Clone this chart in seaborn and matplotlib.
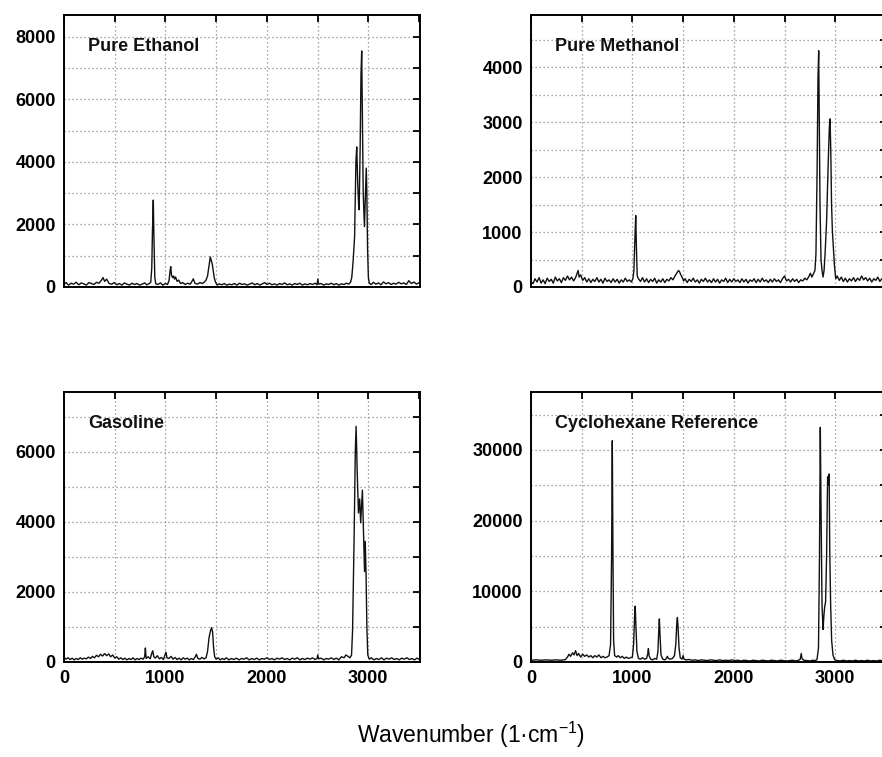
import matplotlib
matplotlib.use("Agg")
import numpy as np
import pandas as pd
import matplotlib.pyplot as plt
import seaborn as sns
from matplotlib.ticker import MultipleLocator

# Raman spectra (wavenumber in 1/cm, counts)
ethanol_wn = [
    0, 20, 45, 70, 95, 120, 145, 170, 195, 220,
    245, 270, 295, 320, 345, 365, 385, 400, 420, 445,
    470, 495, 520, 545, 570, 595, 620, 645, 670, 695,
    720, 745, 770, 795, 815, 835, 855, 865, 872, 880,
    887, 895, 905, 925, 950, 975, 1000, 1020, 1035, 1045,
    1052, 1060, 1070, 1080, 1090, 1100, 1115, 1130, 1150, 1170,
    1195, 1220, 1245, 1265, 1275, 1290, 1315, 1340, 1365, 1385,
    1400, 1415, 1430, 1442, 1452, 1462, 1472, 1482, 1495, 1510,
    1530, 1555, 1580, 1605, 1630, 1655, 1680, 1705, 1730, 1755,
    1780, 1805, 1830, 1855, 1880, 1905, 1930, 1955, 1980, 2000,
    2025, 2050, 2075, 2100, 2125, 2150, 2175, 2200, 2225, 2250,
    2275, 2300, 2325, 2350, 2375, 2400, 2425, 2450, 2475, 2495,
    2502, 2510, 2535, 2560, 2585, 2610, 2635, 2660, 2685, 2710,
    2735, 2760, 2785, 2805, 2825, 2837, 2850, 2865, 2878, 2886,
    2895, 2905, 2910, 2920, 2928, 2935, 2942, 2950, 2962, 2970,
    2980, 2986, 2993, 3001, 3010, 3030, 3050, 3075, 3100, 3125,
    3150, 3175, 3200, 3225, 3250, 3275, 3300, 3325, 3350, 3375,
    3400, 3425, 3450, 3475, 3500, 3520,
]
ethanol_counts = [
    80, 140, 60, 120, 90, 150, 70, 130, 100, 60,
    140, 110, 80, 150, 120, 200, 300, 180, 250, 110,
    90, 140, 70, 110, 60, 130, 90, 60, 120, 80,
    110, 60, 90, 130, 70, 100, 150, 600, 1800, 2780,
    1500, 300, 100, 80, 130, 60, 110, 80, 200, 500,
    650, 380, 300, 350, 250, 320, 180, 220, 110, 140,
    80, 120, 90, 200, 260, 120, 90, 140, 110, 160,
    220, 350, 700, 960, 850, 720, 500, 280, 150, 60,
    100, 70, 110, 60, 90, 70, 110, 60, 120, 80,
    100, 60, 90, 130, 70, 110, 60, 100, 140, 80,
    120, 70, 100, 60, 110, 80, 130, 70, 100, 60,
    110, 80, 120, 60, 100, 70, 110, 80, 120, 70,
    250, 90, 110, 60, 100, 80, 120, 70, 110, 60,
    100, 80, 120, 90, 150, 300, 800, 1600, 4000, 4480,
    3400, 2600, 2470, 4500, 6800, 7550, 5500, 3000, 1930, 2800,
    3800, 3000, 1200, 300, 120, 80, 150, 90, 130, 70,
    160, 100, 140, 80, 120, 90, 150, 100, 130, 80,
    200, 110, 160, 90, 140, 100,
]

methanol_wn = [
    0, 20, 40, 60, 80, 100, 120, 140, 160, 180,
    200, 220, 240, 260, 280, 300, 320, 340, 360, 380,
    400, 420, 440, 455, 465, 475, 490, 510, 530, 550,
    570, 590, 610, 630, 650, 670, 690, 710, 730, 750,
    770, 790, 810, 830, 850, 870, 890, 910, 930, 950,
    970, 990, 1005, 1015, 1025, 1033, 1040, 1048, 1060, 1080,
    1100, 1120, 1140, 1160, 1180, 1200, 1220, 1240, 1260, 1280,
    1300, 1320, 1340, 1360, 1380, 1400, 1420, 1440, 1455, 1465,
    1475, 1490, 1505, 1520, 1540, 1560, 1580, 1600, 1620, 1640,
    1660, 1680, 1700, 1720, 1740, 1760, 1780, 1800, 1820, 1840,
    1860, 1880, 1900, 1920, 1940, 1960, 1980, 2000, 2020, 2040,
    2060, 2080, 2100, 2120, 2140, 2160, 2180, 2200, 2220, 2240,
    2260, 2280, 2300, 2320, 2340, 2360, 2380, 2400, 2420, 2440,
    2460, 2480, 2500, 2520, 2540, 2560, 2580, 2600, 2620, 2640,
    2660, 2680, 2700, 2720, 2740, 2755, 2770, 2785, 2800, 2810,
    2822, 2830, 2837, 2843, 2850, 2860, 2870, 2880, 2890, 2900,
    2915, 2930, 2942, 2949, 2956, 2964, 2972, 2982, 2992, 3005,
    3020, 3040, 3060, 3080, 3100, 3120, 3140, 3160, 3180, 3200,
    3220, 3240, 3260, 3280, 3300, 3320, 3340, 3360, 3380, 3400,
    3420, 3440, 3460, 3480, 3500, 3520,
]
methanol_counts = [
    100, 60, 150, 90, 170, 70, 130, 60, 160, 100,
    140, 70, 180, 110, 150, 80, 170, 120, 200, 130,
    180, 110, 170, 250, 300, 180, 220, 120, 170, 90,
    150, 80, 140, 100, 170, 90, 140, 70, 160, 100,
    130, 80, 150, 90, 140, 70, 130, 90, 160, 100,
    130, 90, 150, 300, 900, 1300, 700, 200, 150, 100,
    170, 90, 150, 80, 140, 100, 160, 70, 130, 90,
    150, 80, 140, 110, 170, 130, 200, 260, 300, 280,
    230, 180, 110, 150, 80, 140, 100, 160, 90, 130,
    70, 140, 100, 160, 90, 130, 80, 150, 90, 140,
    70, 130, 100, 160, 80, 140, 90, 150, 100, 130,
    80, 150, 90, 140, 70, 130, 100, 150, 80, 140,
    90, 160, 100, 130, 80, 140, 90, 150, 100, 130,
    80, 150, 200, 110, 140, 90, 150, 100, 140, 80,
    130, 110, 160, 130, 190, 250, 180, 240, 300, 600,
    2200, 3800, 4300, 3000, 1500, 500, 300, 180, 300, 600,
    1200, 2200, 2900, 3060, 2500, 1500, 1020, 700, 400, 150,
    200, 120, 180, 100, 160, 90, 150, 110, 170, 100,
    160, 120, 200, 130, 170, 110, 160, 90, 150, 120,
    180, 100, 150, 110, 160, 120,
]

gasoline_wn = [
    0, 20, 40, 60, 80, 100, 120, 140, 160, 180,
    200, 220, 240, 260, 280, 300, 320, 340, 360, 380,
    400, 420, 440, 460, 480, 500, 520, 540, 560, 580,
    600, 620, 640, 660, 680, 700, 720, 740, 760, 780,
    795, 802, 810, 830, 850, 865, 875, 885, 900, 920,
    940, 960, 980, 995, 1005, 1015, 1035, 1055, 1075, 1095,
    1115, 1135, 1155, 1175, 1195, 1215, 1235, 1255, 1275, 1295,
    1305, 1320, 1340, 1360, 1380, 1400, 1415, 1430, 1445, 1455,
    1465, 1475, 1485, 1500, 1520, 1540, 1560, 1580, 1600, 1625,
    1650, 1675, 1700, 1725, 1750, 1775, 1800, 1825, 1850, 1875,
    1900, 1925, 1950, 1975, 2000, 2025, 2050, 2075, 2100, 2125,
    2150, 2175, 2200, 2225, 2250, 2275, 2300, 2325, 2350, 2375,
    2400, 2425, 2450, 2475, 2495, 2502, 2510, 2535, 2560, 2585,
    2610, 2635, 2660, 2685, 2710, 2735, 2760, 2780, 2800, 2820,
    2835, 2845, 2860, 2872, 2880, 2890, 2903, 2915, 2925, 2935,
    2942, 2950, 2963, 2970, 2978, 2986, 2995, 3010, 3030, 3055,
    3080, 3105, 3130, 3155, 3180, 3205, 3230, 3255, 3280, 3305,
    3330, 3355, 3380, 3405, 3430, 3455, 3480, 3500, 3520,
]
gasoline_counts = [
    130, 80, 120, 70, 110, 60, 100, 70, 120, 80,
    110, 90, 140, 100, 160, 120, 190, 150, 220, 170,
    240, 180, 230, 150, 200, 110, 150, 80, 120, 70,
    110, 60, 100, 70, 120, 60, 100, 70, 110, 80,
    150, 400, 100, 150, 90, 250, 320, 150, 110, 180,
    90, 130, 70, 200, 280, 120, 100, 160, 80, 130,
    70, 110, 60, 120, 80, 110, 60, 100, 70, 150,
    220, 100, 80, 130, 90, 120, 300, 700, 900, 980,
    850, 400, 150, 80, 120, 60, 100, 70, 120, 60,
    100, 70, 110, 60, 100, 80, 120, 60, 100, 70,
    110, 60, 100, 80, 120, 70, 100, 60, 110, 80,
    120, 70, 100, 60, 110, 80, 120, 60, 100, 70,
    110, 80, 120, 70, 100, 200, 90, 110, 60, 100,
    80, 120, 70, 110, 60, 150, 120, 200, 160, 120,
    200, 900, 3500, 6000, 6720, 5500, 4250, 4650, 3970, 4500,
    4900, 4000, 2580, 3440, 2500, 1000, 200, 80, 120, 60,
    100, 70, 120, 60, 110, 80, 120, 70, 100, 60,
    110, 80, 120, 70, 100, 60, 110, 80, 120,
]

cyclohexane_wn = [
    0, 50, 100, 150, 200, 250, 300, 340, 360, 375,
    390, 410, 425, 440, 455, 470, 490, 510, 530, 550,
    570, 590, 610, 630, 650, 670, 690, 710, 730, 750,
    770, 785, 795, 802, 808, 815, 825, 845, 860, 880,
    900, 920, 940, 960, 980, 1000, 1012, 1022, 1028, 1035,
    1045, 1060, 1080, 1100, 1120, 1140, 1152, 1158, 1165, 1180,
    1200, 1220, 1240, 1252, 1260, 1266, 1272, 1282, 1300, 1320,
    1335, 1345, 1355, 1375, 1395, 1415, 1428, 1438, 1444, 1450,
    1460, 1472, 1490, 1500, 1510, 1530, 1560, 1590, 1620, 1650,
    1680, 1710, 1740, 1770, 1800, 1830, 1860, 1890, 1920, 1950,
    1980, 2010, 2040, 2070, 2100, 2130, 2160, 2190, 2220, 2250,
    2280, 2310, 2340, 2370, 2400, 2430, 2460, 2490, 2520, 2550,
    2580, 2610, 2640, 2655, 2665, 2672, 2690, 2720, 2750, 2780,
    2800, 2820, 2835, 2845, 2853, 2860, 2870, 2880, 2888, 2896,
    2905, 2915, 2925, 2933, 2940, 2946, 2955, 2965, 2978, 2995,
    3020, 3050, 3080, 3110, 3140, 3170, 3200, 3230, 3260, 3290,
    3320, 3350, 3380, 3410, 3440, 3470, 3500, 3520,
]
cyclohexane_counts = [
    250, 300, 250, 300, 250, 300, 250, 350, 700, 1100,
    800, 1300, 1000, 1600, 900, 1200, 700, 1100, 800, 1000,
    700, 900, 600, 900, 700, 1000, 600, 800, 600, 700,
    900, 2500, 15000, 31300, 16000, 3000, 900, 700, 900, 600,
    800, 500, 700, 500, 600, 700, 2500, 6500, 7900, 5000,
    1500, 500, 400, 600, 400, 500, 1200, 1900, 900, 400,
    300, 500, 400, 1500, 4500, 6100, 4000, 1000, 400, 300,
    500, 800, 500, 400, 500, 900, 2500, 5500, 6300, 5000,
    2000, 600, 400, 900, 400, 300, 350, 250, 300, 200,
    300, 250, 200, 300, 250, 200, 300, 200, 250, 200,
    300, 200, 250, 150, 250, 200, 150, 250, 200, 150,
    250, 200, 150, 250, 200, 150, 250, 200, 150, 200,
    250, 150, 250, 400, 1200, 500, 250, 200, 150, 250,
    200, 300, 2000, 15000, 33200, 22000, 8000, 4600, 6500, 7800,
    8500, 15000, 26200, 25000, 26600, 16000, 8000, 3000, 1000, 300,
    200, 150, 250, 150, 200, 150, 250, 150, 200, 150,
    250, 150, 200, 150, 250, 150, 200, 150,
]

sns.set_theme(style="white")
plt.rcParams["font.family"] = ["Liberation Sans", "DejaVu Sans"]
plt.rcParams["mathtext.fontset"] = "custom"
plt.rcParams["mathtext.rm"] = "Liberation Sans"


def draw_panel(ax, wn, counts, title, ymax, ystep, ylabel_step, show_x):
    df = pd.DataFrame({"wn": wn, "counts": counts})
    sns.lineplot(data=df, x="wn", y="counts", ax=ax, color="#111111",
                 lw=1.0, estimator=None, sort=False)
    ax.set_xlim(0, 3510)
    ax.set_ylim(0, ymax)
    ax.xaxis.set_major_locator(MultipleLocator(1000))
    ax.xaxis.set_minor_locator(MultipleLocator(500))
    ax.yaxis.set_major_locator(MultipleLocator(ylabel_step))
    ax.yaxis.set_minor_locator(MultipleLocator(ystep))
    ax.grid(which="both", ls=(0, (1, 2.2)), color="#8a8a8a", lw=0.9)
    ax.tick_params(which="both", direction="in", top=True, right=True,
                   length=5, width=1.3, color="black", labelsize=13,
                   labelcolor="black", pad=6)
    ax.tick_params(labelbottom=show_x)
    for lab in ax.get_xticklabels() + ax.get_yticklabels():
        lab.set_fontweight("bold")
    for sp in ax.spines.values():
        sp.set_color("black")
        sp.set_linewidth(1.4)
    ax.set_xlabel("")
    ax.set_ylabel("")
    ax.text(0.067, 0.885, title, transform=ax.transAxes, fontsize=13,
            fontweight="bold", va="center", ha="left", color="#111111")


fig = plt.figure(figsize=(8.82, 7.57), dpi=100)
w = 0.4036
ax1 = fig.add_axes([0.0726, 0.6209, w, 0.3593])
ax2 = fig.add_axes([0.602, 0.6209, w, 0.3593])
ax3 = fig.add_axes([0.0726, 0.1255, w, 0.3567])
ax4 = fig.add_axes([0.602, 0.1255, w, 0.3567])

draw_panel(ax1, ethanol_wn, ethanol_counts, "Pure Ethanol", 8700, 1000, 2000, False)
draw_panel(ax2, methanol_wn, methanol_counts, "Pure Methanol", 4950, 500, 1000, False)
draw_panel(ax3, gasoline_wn, gasoline_counts, "Gasoline", 7700, 1000, 2000, True)
draw_panel(ax4, cyclohexane_wn, cyclohexane_counts, "Cyclohexane Reference", 38200, 5000, 10000, True)

fig.text(0.534, 0.0185, r"Wavenumber (1·cm$^{\mathregular{-1}}$)", ha="center",
         va="baseline", fontsize=16.5, color="black")

fig.savefig("out.png", dpi=100)
